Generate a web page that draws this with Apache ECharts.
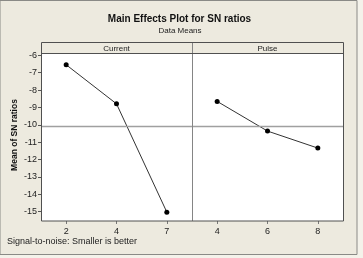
<!DOCTYPE html>
<html><head><meta charset="utf-8">
<script src="https://cdn.jsdelivr.net/npm/echarts@6/dist/echarts.min.js"></script>
<style>html,body{margin:0;padding:0;background:#f4f2ea;}#c{width:363px;height:258px;}</style>
</head><body><div id="c"></div>
<script>
const currentLevels = ['2', '4', '7'];
const currentMeans = [-6.54, -8.79, -15.03];
const pulseLevels = ['4', '6', '8'];
const pulseMeans = [-8.65, -10.36, -11.34];
const yTicks = [-6, -7, -8, -9, -10, -11, -12, -13, -14, -15];
const refLine = -10.1;
const panelNames = ['Current', 'Pulse'];

const FONT = 'Liberation Sans';
const chart = echarts.init(document.getElementById('c'), null, {renderer: 'canvas'});
const yMin = -15.54, yMax = -5.92;
const gridTop = 54, gridH = 167, gridL = 41, panelW = 151;

function yAxis(idx, show) {
  return {
    type: 'value', gridIndex: idx, min: yMin, max: yMax,
    axisLine: {show: false}, splitLine: {show: false},
    axisTick: {show: show, length: 3, lineStyle: {color: '#555'}, customValues: yTicks},
    axisLabel: {show: show, customValues: yTicks, fontFamily: FONT, fontSize: 9, color: '#222', margin: 4}
  };
}
function xAxis(idx, cats) {
  return {
    type: 'category', gridIndex: idx, data: cats, boundaryGap: true,
    axisLine: {show: false},
    axisTick: {show: true, alignWithLabel: true, length: 3, lineStyle: {color: '#777'}},
    axisLabel: {fontFamily: FONT, fontSize: 9, color: '#222', margin: 6}
  };
}
function series(idx, data) {
  return {
    type: 'line', xAxisIndex: idx, yAxisIndex: idx, data: data,
    symbol: 'circle', symbolSize: 5, itemStyle: {color: '#000'},
    lineStyle: {color: '#333', width: 1}, animation: false,
    markLine: {silent: true, symbol: 'none', label: {show: false},
      lineStyle: {color: '#a0a0a0', type: 'solid', width: 1.3}, data: [{yAxis: refLine}]}
  };
}

chart.setOption({
  animation: false,
  grid: [
    {left: gridL, top: gridTop, width: panelW, height: gridH, show: true, backgroundColor: '#fff', borderWidth: 0},
    {left: gridL + panelW, top: gridTop, width: panelW, height: gridH, show: true, backgroundColor: '#fff', borderWidth: 0}
  ],
  xAxis: [xAxis(0, currentLevels), xAxis(1, pulseLevels)],
  yAxis: [yAxis(0, true), yAxis(1, false)],
  series: [series(0, currentMeans), series(1, pulseMeans)],
  graphic: [
    {type: 'rect', z: -10, shape: {x: 0, y: 0.5, width: 357, height: 254}, style: {fill: '#edeadf', stroke: '#8a8a86', lineWidth: 1}},
    {type: 'line', z: 50, shape: {x1: gridL + panelW + 0.5, y1: 42.5, x2: gridL + panelW + 0.5, y2: gridTop + gridH}, style: {stroke: '#858585', lineWidth: 1}},
    {type: 'rect', z: 50, shape: {x: gridL + 0.5, y: 42.5, width: panelW * 2, height: gridTop + gridH - 42.5}, style: {fill: null, stroke: '#505050', lineWidth: 1}},
    {type: 'line', z: 50, shape: {x1: gridL, y1: 53.5, x2: gridL + panelW * 2, y2: 53.5}, style: {stroke: '#505050', lineWidth: 1}},
    {type: 'text', x: gridL + panelW / 2, y: 48.5, style: {text: panelNames[0], fontFamily: FONT, fontSize: 8, fill: '#222', align: 'center', verticalAlign: 'middle'}},
    {type: 'text', x: gridL + panelW * 1.5, y: 48.5, style: {text: panelNames[1], fontFamily: FONT, fontSize: 8, fill: '#222', align: 'center', verticalAlign: 'middle'}},
    {type: 'text', x: 179.5, y: 19, style: {text: 'Main Effects Plot for SN ratios', fontFamily: FONT, fontWeight: 'bold', fontSize: 10, fill: '#111', align: 'center', verticalAlign: 'middle'}},
    {type: 'text', x: 180, y: 31, style: {text: 'Data Means', fontFamily: FONT, fontSize: 8, fill: '#222', align: 'center', verticalAlign: 'middle'}},
    {type: 'text', x: 15, y: 135, rotation: Math.PI / 2, style: {text: 'Mean of SN ratios', fontFamily: FONT, fontWeight: 'bold', fontSize: 8.5, fill: '#111', align: 'center', verticalAlign: 'middle'}},
    {type: 'text', x: 7, y: 242, style: {text: 'Signal-to-noise: Smaller is better', fontFamily: FONT, fontSize: 9, fill: '#222', align: 'left', verticalAlign: 'middle'}}
  ]
});
</script></body></html>
